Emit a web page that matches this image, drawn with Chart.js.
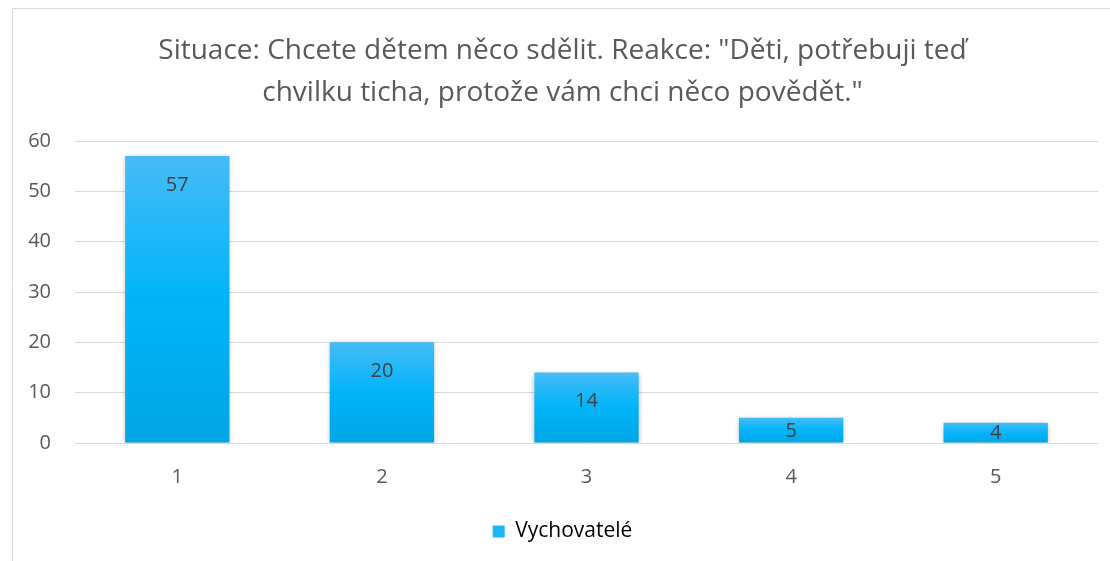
<!DOCTYPE html>
<html>
<head>
<meta charset="utf-8">
<script src="https://cdn.jsdelivr.net/npm/chart.js@4"></script>
<style>
  html, body { margin: 0; padding: 0; background: #fff; overflow: hidden; }
  #wrap { width: 1130px; height: 561px; }
</style>
</head>
<body>
<div id="wrap"><canvas id="chart"></canvas></div>
<script>
const titleLines = ['Situace: Chcete dětem něco sdělit. Reakce: "Děti, potřebuji teď', 'chvilku ticha, protože vám chci něco povědět."'];
const categories = ['1', '2', '3', '4', '5'];
const seriesName = 'Vychovatelé';
const seriesValues = [57, 20, 14, 5, 4];
const yTicks = [0, 10, 20, 30, 40, 50, 60];

const FONT = "'Open Sans', 'Noto Sans', sans-serif";
const TEXT = '#595959';

// frame line on left and top (the picture is cropped on the right)
const framePlugin = {
    id: 'frame',
    beforeDraw(chart) {
        const c = chart.ctx;
        c.save();
        c.strokeStyle = '#d9d9d9';
        c.lineWidth = 1;
        c.beginPath();
        c.moveTo(12.5, 561);
        c.lineTo(12.5, 8.5);
        c.lineTo(1130, 8.5);
        c.stroke();
        c.restore();
    }
};

const shadowPlugin = {
    id: 'barShadow',
    beforeDatasetsDraw(chart) {
        const c = chart.ctx;
        c.save();
        c.shadowColor = 'rgba(0,0,0,0.28)';
        c.shadowBlur = 5;
        c.shadowOffsetX = 0;
        c.shadowOffsetY = 1;
    },
    afterDatasetsDraw(chart) {
        chart.ctx.restore();
    }
};

// values printed inside the bar, near its top
const labelPlugin = {
    id: 'barLabels',
    afterDatasetsDraw(chart) {
        const c = chart.ctx;
        const meta = chart.getDatasetMeta(0);
        c.save();
        c.font = '20px ' + FONT;
        c.fillStyle = '#404040';
        c.textAlign = 'center';
        c.textBaseline = 'middle';
        meta.data.forEach((bar, i) => {
            const v = chart.data.datasets[0].data[i];
            const h = bar.base - bar.y;
            const y = h > 40 ? bar.y + 29 : bar.y + h / 2 + 1;
            c.fillText(String(v), bar.x, y);
        });
        c.restore();
    }
};

function barGradient(context) {
    const chart = context.chart;
    const yScale = chart.scales.y;
    if (!yScale || context.raw === undefined) return '#00b0f0';
    const top = yScale.getPixelForValue(context.raw);
    const bottom = yScale.getPixelForValue(0);
    if (!isFinite(top) || !isFinite(bottom) || top === bottom) return '#00b0f0';
    const g = chart.ctx.createLinearGradient(0, top, 0, bottom);
    g.addColorStop(0, '#45bcf7');
    g.addColorStop(0.5, '#00b4f9');
    g.addColorStop(1, '#00a6e4');
    return g;
}

new Chart(document.getElementById('chart'), {
    type: 'bar',
    data: {
        labels: categories,
        datasets: [{
            label: seriesName,
            data: seriesValues,
            backgroundColor: barGradient,
            borderWidth: 0,
            categoryPercentage: 0.51,
            barPercentage: 1.0
        }]
    },
    options: {
        responsive: true,
        maintainAspectRatio: false,
        animation: false,
        layout: { padding: { left: 27, right: 32, top: 14, bottom: 9 } },
        plugins: {
            title: {
                display: true,
                text: titleLines,
                color: TEXT,
                font: { family: FONT, size: 28, weight: 'normal', lineHeight: 1.5 },
                padding: { top: 16, bottom: 27 }
            },
            legend: {
                position: 'bottom',
                labels: {
                    color: TEXT,
                    font: { family: FONT, size: 21 },
                    boxWidth: 12,
                    boxHeight: 12,
                    padding: 18,
                    generateLabels(chart) {
                        return [{
                            text: seriesName,
                            fillStyle: '#1ab6f5',
                            strokeStyle: '#1ab6f5',
                            lineWidth: 0,
                            datasetIndex: 0
                        }];
                    }
                }
            },
            tooltip: { enabled: false }
        },
        scales: {
            x: {
                grid: { display: false },
                border: { display: false },
                ticks: { color: TEXT, font: { family: FONT, size: 20 }, padding: 14 }
            },
            y: {
                min: 0,
                max: 60,
                afterBuildTicks(axis) { axis.ticks = yTicks.map(v => ({ value: v })); },
                afterFit(axis) { axis.width = 48; },
                grid: { color: '#d9d9d9', lineWidth: 1, drawTicks: false },
                border: { display: false },
                ticks: { color: TEXT, font: { family: FONT, size: 20 }, padding: 24 }
            }
        }
    },
    plugins: [framePlugin, shadowPlugin, labelPlugin]
});
</script>
</body>
</html>
